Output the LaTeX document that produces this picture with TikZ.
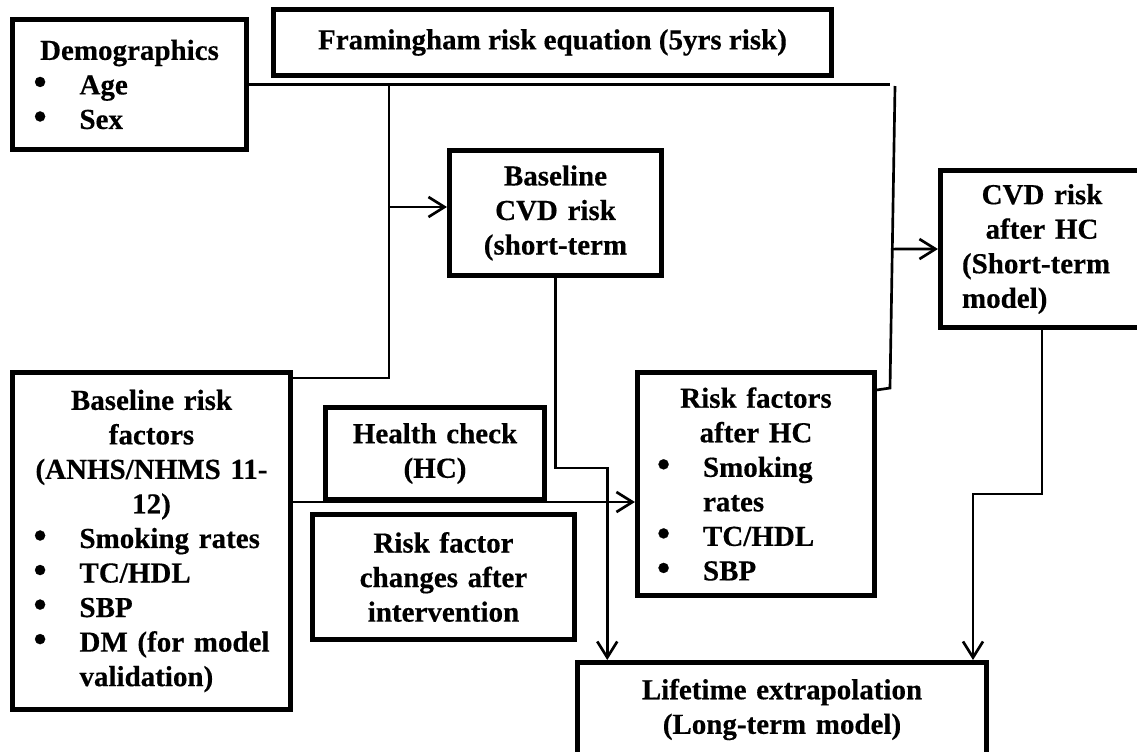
\documentclass[tikz,border=0pt]{standalone}
\usepackage{fontspec}
\setmainfont{Liberation Serif}[BoldFeatures={FakeBold=0.4}]
\usepackage{graphicx}
\usetikzlibrary{arrows.meta,calc}

% text inside the boxes
\newcommand\boxfont{\fontsize{21.75pt}{25.9pt}\selectfont\bfseries\parindent=0pt\parskip=0pt}
\newcommand\CtrL[1]{\makebox[\linewidth][c]{#1}\par}
\newcommand\LftL[1]{\makebox[\linewidth][l]{#1}\par}
\newcommand\BulL[1]{\makebox[\linewidth][l]{\makebox[34.5pt][l]{\scalebox{1.3}{\textbullet}}#1}\par}
\newcommand\ConL[1]{\makebox[\linewidth][l]{\hspace*{34.5pt}#1}\par}

\tikzset{
  box/.style={draw, rectangle, line width=3.6pt, inner sep=0pt, font=\boxfont},
  conn/.style={line width=2pt},
  arr/.style={conn, -{Straight Barb[length=12pt,width=15pt]}}
}

\begin{document}
\begin{tikzpicture}[x=0.75pt, y=-0.75pt]
\useasboundingbox (0,0) rectangle (1137,751);
\fill[white] (0,0) rectangle (1137,751);
\clip (0,0) rectangle (1137,751);

% boxes
\node[box, minimum width=175.7pt, minimum height=97.7pt, text width=144pt] (demo) at (129.5,84.5)
  {\CtrL{Demographics}\BulL{Age}\BulL{Sex}};
\node[box, minimum width=418.7pt, minimum height=49.7pt] (fram) at (552.5,42.5)
  {Framingham risk equation (5yrs risk)};
\node[box, minimum width=159.2pt, minimum height=94pt, text width=150pt] (base) at (555.5,213)
  {\CtrL{Baseline}\CtrL{CVD risk}\CtrL{(short-term}};
\node[box, minimum width=152.5pt, minimum height=118pt, text width=120pt] (cvdhc) at (1042,249)
  {\CtrL{CVD risk}\CtrL{after HC}\LftL{(Short-term}\LftL{model)}};
\node[box, minimum width=208.7pt, minimum height=253pt, text width=177pt] (brf) at (151.5,541)
  {\CtrL{Baseline risk}\CtrL{factors}\CtrL{(ANHS/NHMS 11-}\CtrL{12)}%
   \BulL{Smoking rates}\BulL{TC/HDL}\BulL{SBP}\BulL{DM (for model}\ConL{validation)}};
\node[box, minimum width=164.5pt, minimum height=69.2pt, text width=150pt] (hc) at (435,453.5)
  {\CtrL{Health check}\CtrL{(HC)}};
\node[box, minimum width=196.7pt, minimum height=94pt, text width=180pt] (rfc) at (443.5,577)
  {\CtrL{Risk factor}\CtrL{changes after}\CtrL{intervention}};
\node[box, minimum width=178pt, minimum height=167.5pt, text width=148.5pt] (rfhc) at (756,484)
  {\CtrL{Risk factors}\CtrL{after HC}\BulL{Smoking}\ConL{rates}\BulL{TC/HDL}\BulL{SBP}};
\node[box, minimum width=307pt, minimum height=70.7pt, text width=300pt] (life) at (782,709.5)
  {\CtrL{Lifetime extrapolation}\CtrL{(Long-term model)}};

% bends and free ends of the connectors
\coordinate (topend) at (890,84.5);
\coordinate (j1) at (389,84.5);
\coordinate (j2top) at (895,86);
\coordinate (j2bot) at (890,388);
\coordinate (b1) at (607.25,468);
\coordinate (b2) at (973,494);
\coordinate (a1) at ($(base.west)+(0,-6)$);
\coordinate (a3) at ($(rfhc.west)+(0,18)$);

% connectors
\draw[conn] (demo.east) -- (topend);
\draw[conn] ($(brf.north east)+(0,8)$) -| (j1);
\draw[arr] (j1 |- a1) -- (a1);
\draw[conn] (j2top) -- (j2bot) -- ($(rfhc.north east)+(0,20)$);
\draw[arr] ($(j2top)!0.54!(j2bot)$) -- (cvdhc.west);
\draw[arr] (base.south) |- (b1) -- (b1 |- life.north);
\draw[arr] (cvdhc.south) |- (b2) -- (b2 |- life.north);
\draw[arr] (brf.east |- a3) -- (a3);
\end{tikzpicture}
\end{document}
